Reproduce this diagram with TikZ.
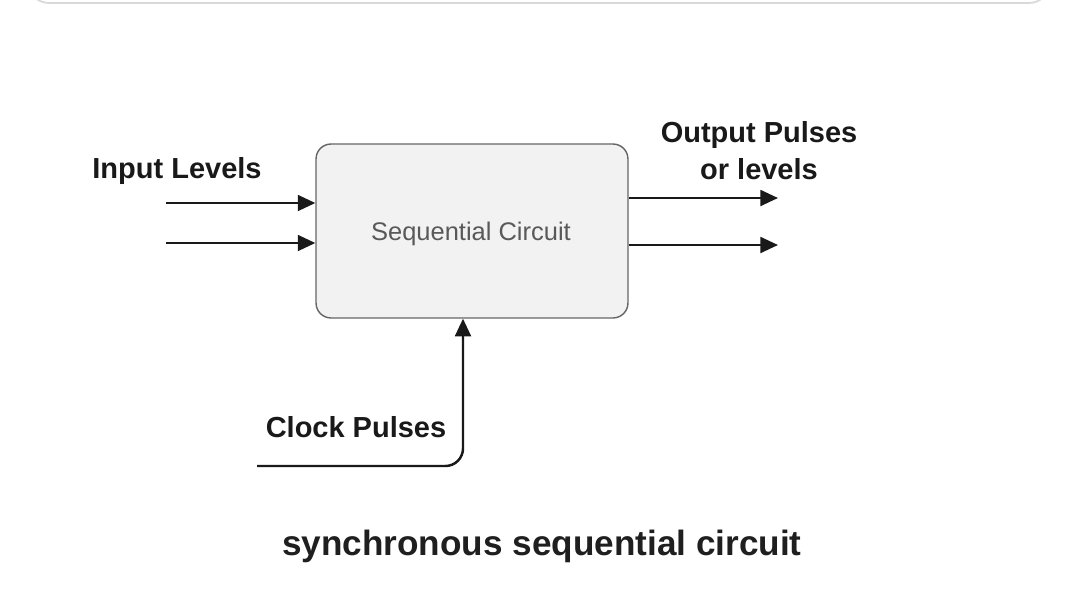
\documentclass[tikz,border=0pt]{standalone}
\usepackage{fontspec}
\setmainfont{Liberation Sans}
\usetikzlibrary{arrows.meta}

\tikzset{
  sig/.style={line width=1.4pt, draw=black!90, -{Triangle[length=10pt,width=9pt]}},
  lbl/.style={font=\fontsize{16.5}{21}\selectfont\bfseries, text=black!90, align=center},
  seqbox/.style={draw=black!60, line width=0.8pt, fill=black!5, rounded corners=0.3cm,
    minimum width=6.24cm, minimum height=3.48cm, text=black!65,
    font=\fontsize{14.5}{17}\selectfont}
}

\begin{document}
\begin{tikzpicture}[x=0.02cm, y=-0.02cm]
    \useasboundingbox (0,0) rectangle (1080,613);
    % card edge at the top
    \draw[black!15, line width=1pt, rounded corners=12] (28,-30) -- (28,3) -- (1050,3) -- (1050,-30);

    \node[seqbox] (sc) at (472,231) {};
    \node[text=black!65, font=\fontsize{14.5}{17}\selectfont] (sctext) at (471,234) {Sequential Circuit};

    % inputs
    \coordinate (in1) at (166,203);
    \coordinate (in2) at (166,243);
    \draw[sig] (in1) -- (in1 -| sc.west);
    \draw[sig] (in2) -- (in2 -| sc.west);
    \node[lbl] (inlbl) at (177,171) {Input Levels};

    % outputs
    \coordinate (out1) at (778,198);
    \coordinate (out2) at (778,245);
    \draw[sig] (out1 -| sc.east) -- (out1);
    \draw[sig] (out2 -| sc.east) -- (out2);
    \node[lbl] (outlbl) at (759,151) {Output Pulses\\or levels};

    % clock
    \coordinate (clk) at (257,466);
    \coordinate (clkx) at (463,0);
    \draw[sig, rounded corners=10] (clk) -| (sc.south -| clkx);
    \node[lbl] (clklbl) at (356,427) {Clock Pulses};

    \node[font=\fontsize{20}{24}\selectfont\bfseries, text=black!88] (title) at (542,546) {synchronous sequential circuit};
\end{tikzpicture}
\end{document}
